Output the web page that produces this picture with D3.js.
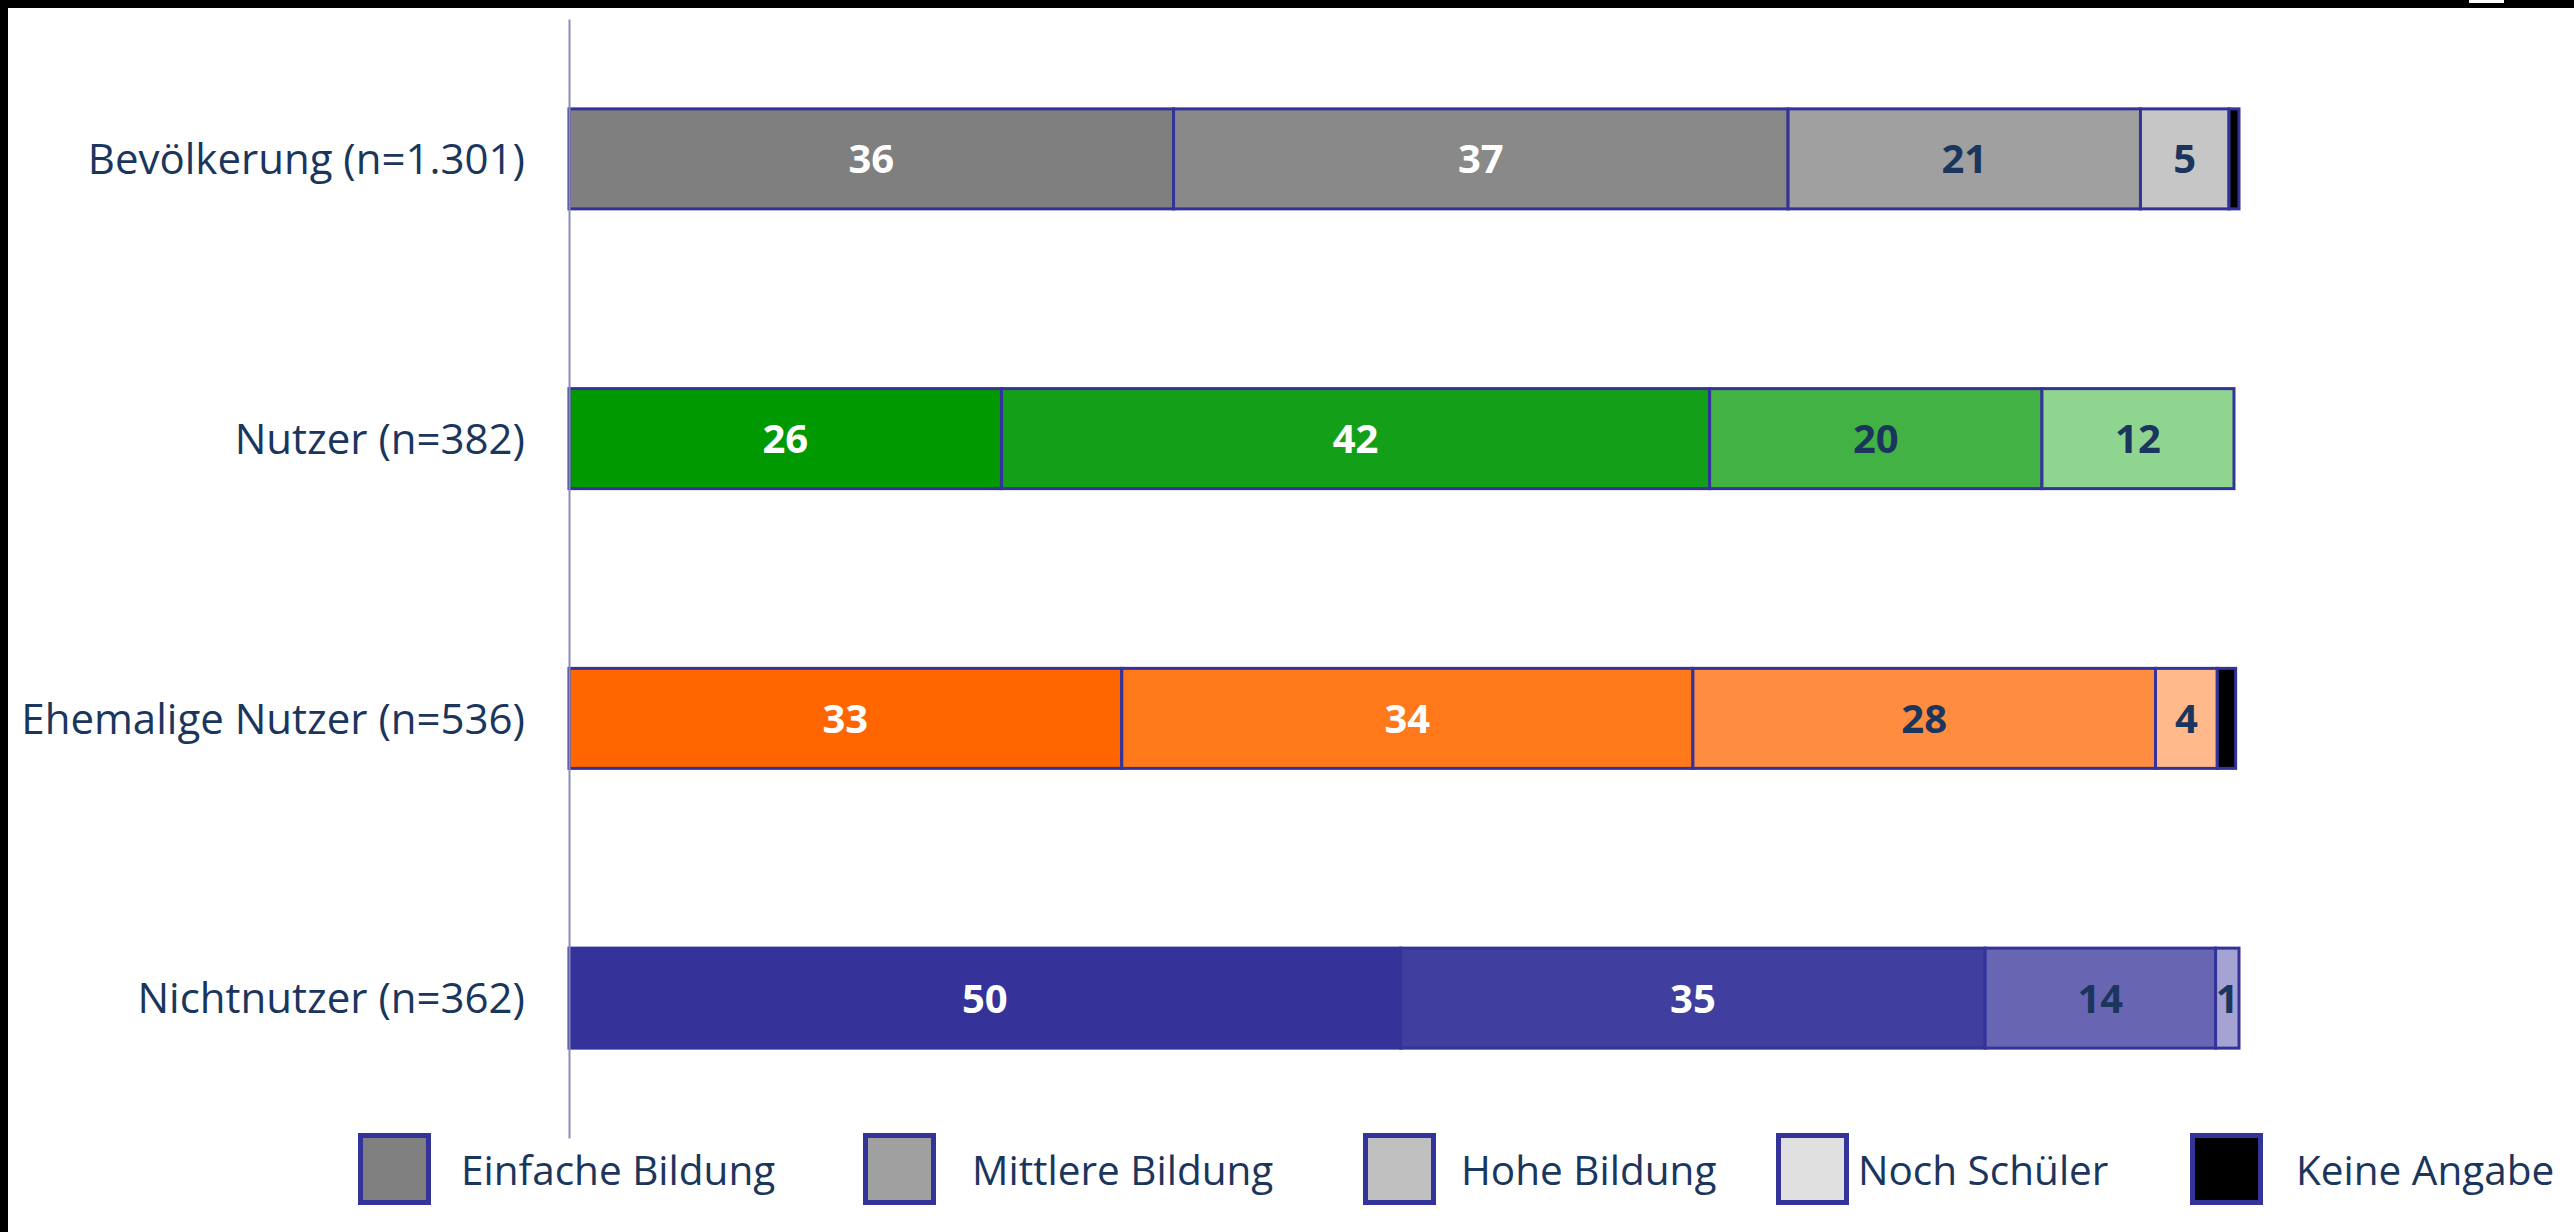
<!DOCTYPE html>
<html lang="de">
<head>
<meta charset="utf-8">
<script src="https://cdn.jsdelivr.net/npm/d3@7"></script>
<style>
	html, body { margin: 0; padding: 0; background: #fff; }
	svg { display: block; }
	.cat-axis text { font-family: "Open Sans", sans-serif; font-size: 42px; fill: #1b365d; }
	.cat-axis .domain { stroke: #8c8cbc; stroke-width: 2; }
	.value-label { font-family: "Open Sans", sans-serif; font-size: 40px; font-weight: 700; }
	.legend-text { font-family: "Open Sans", sans-serif; font-size: 40.5px; fill: #1b365d; }
</style>
</head>
<body>
<svg id="chart"></svg>
<script>
/* global d3 */

const categories = ["Bevölkerung (n=1.301)", "Nutzer (n=382)", "Ehemalige Nutzer (n=536)", "Nichtnutzer (n=362)"];
const seriesNames = ["Einfache Bildung", "Mittlere Bildung", "Hohe Bildung", "Noch Schüler", "Keine Angabe"];

// shares in percent, per category
const einfache = [36.2, 25.9, 33.1, 49.8];
const mittlere = [36.8, 42.4, 34.2, 35.0];
const hohe = [21.1, 19.9, 27.7, 13.8];
const schueler = [5.3, 11.5, 3.7, 1.4];
const keineAngabe = [0.6, 0, 1.1, 0];

const seriesValues = [einfache, mittlere, hohe, schueler, keineAngabe];

// fill colours per category (rows) and series (columns)
const palettes = [
	["#7f7f7f", "#898989", "#a0a0a0", "#c6c6c6", "#000000"],
	["#009900", "#13a018", "#43b244", "#8fd48f", "#000000"],
	["#ff6600", "#ff781a", "#ff8c3f", "#ffb98b", "#000000"],
	["#35339a", "#403e9e", "#6866b2", "#a4a3d3", "#000000"],
];
const legendColors = ["#808080", "#a0a0a0", "#c0c0c0", "#e0e0e0", "#000000"];

const width = 2574;
const height = 1232;
const border = "#333399";

const svg = d3.select("#chart").attr("width", width).attr("height", height);

// frame of the screenshot
svg.append("rect").attr("x", 0).attr("y", 0).attr("width", width).attr("height", 8).attr("fill", "#000");
svg.append("rect").attr("x", 0).attr("y", 0).attr("width", 8).attr("height", height).attr("fill", "#000");
svg.append("rect").attr("x", 2469).attr("y", 0).attr("width", 35).attr("height", 3).attr("fill", "#fff");

const rows = categories.map((name, i) => {
	const row = { name, index: i };
	seriesNames.forEach((key, k) => (row[key] = seriesValues[k][i]));
	return row;
});

const x = d3.scaleLinear().domain([0, 100]).range([569, 2239]);
const y = d3.scaleBand().domain(categories).range([19, 1138]).paddingInner(0.6425).paddingOuter(0.32125);

const stacked = d3.stack().keys(seriesNames)(rows);

const layers = svg
	.append("g")
	.selectAll("g")
	.data(stacked)
	.join("g");

layers
	.selectAll("rect")
	.data((layer) => layer.map((d) => ({ d, k: layer.index })))
	.join("rect")
	.filter(({ d }) => d[1] - d[0] > 0)
	.attr("x", ({ d }) => x(d[0]))
	.attr("y", ({ d }) => y(d.data.name))
	.attr("width", ({ d }) => x(d[1]) - x(d[0]))
	.attr("height", y.bandwidth())
	.attr("fill", ({ d, k }) => palettes[d.data.index][k])
	.attr("stroke", border)
	.attr("stroke-width", 3);

// value labels (no labels for "Keine Angabe")
layers
	.filter((layer) => layer.key !== "Keine Angabe")
	.selectAll("text")
	.data((layer) => layer.map((d) => ({ d, k: layer.index })))
	.join("text")
	.filter(({ d }) => d[1] - d[0] > 0)
	.attr("class", "value-label")
	.attr("x", ({ d }) => x((d[0] + d[1]) / 2))
	.attr("y", ({ d }) => y(d.data.name) + y.bandwidth() / 2)
	.attr("dy", "0.36em")
	.attr("text-anchor", "middle")
	.attr("fill", ({ k }) => (k < 2 ? "#ffffff" : "#1b365d"))
	.text(({ d }) => Math.round(d[1] - d[0]));

// category axis
svg
	.append("g")
	.attr("class", "cat-axis")
	.attr("transform", `translate(${x(0)},0)`)
	.call(d3.axisLeft(y).tickSize(0).tickSizeOuter(0).tickPadding(44))
	.call((g) => g.selectAll("text").attr("dy", "0.36em"));

// legend
const legendLayout = [
	{ box: 358, text: 461 },
	{ box: 863, text: 972 },
	{ box: 1363, text: 1461 },
	{ box: 1776, text: 1858 },
	{ box: 2190, text: 2296 },
];
const legend = svg
	.append("g")
	.selectAll("g")
	.data(seriesNames)
	.join("g");

legend
	.append("rect")
	.attr("x", (d, i) => legendLayout[i].box + 2.5)
	.attr("y", 1135.5)
	.attr("width", 68)
	.attr("height", 67)
	.attr("fill", (d, i) => legendColors[i])
	.attr("stroke", border)
	.attr("stroke-width", 5);

legend
	.append("text")
	.attr("class", "legend-text")
	.attr("x", (d, i) => legendLayout[i].text)
	.attr("y", 1170)
	.attr("dy", "0.36em")
	.text((d) => d);
</script>
</body>
</html>
